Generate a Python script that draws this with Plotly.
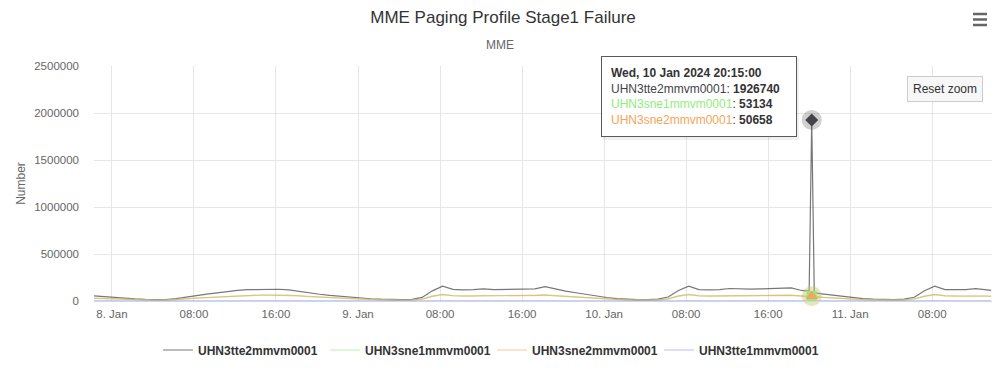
import pandas as pd
import plotly.graph_objects as go

# ---------------- data ----------------
START = "2024-01-07 22:15"
END = "2024-01-11 13:15"
X_RANGE = ["2024-01-07 22:15", "2024-01-11 13:50"]

SERIES_NAMES = ["UHN3tte2mmvm0001", "UHN3sne1mmvm0001", "UHN3sne2mmvm0001", "UHN3tte1mmvm0001"]

# hourly samples (hh:15), Jan 7 22:15 .. Jan 11 13:15
GRAY = [
    55000, 45000,
    36000, 29000, 23000, 18000, 15000, 16000, 26000, 44000, 62000, 73000, 86000, 101000,
    114000, 121000, 124000, 125000, 125000, 118000, 101000, 85000, 72000, 60000, 50000, 40000,
    31000, 24000, 19000, 16000, 15000, 18000, 38000, 108000, 157000, 124000, 118000, 120000,
    129000, 121000, 122000, 131000, 124000, 130000, 152000, 125000, 105000, 88000, 70000, 52000,
    37000, 25000, 18000, 15000, 15000, 19000, 42000, 112000, 157000, 122000, 118000, 121000,
    133000, 127000, 126000, 128000, 130000, 132000, 140000, 112000, 1926740, 75000, 62000, 49000,
    37000, 26000, 19000, 16000, 15000, 19000, 40000, 110000, 157000, 122000, 118000, 121000,
    131000, 116000,
]
GREEN = [
    30000, 26000,
    21000, 17000, 14000, 11000, 10000, 10000, 14000, 23000, 32000, 38000, 45000, 52000,
    58000, 62000, 63000, 64000, 64000, 62000, 56000, 48000, 42000, 35000, 29000, 24000,
    19000, 15000, 12000, 10000, 9000, 11000, 20000, 52000, 70000, 58000, 54000, 55000,
    58000, 55000, 56000, 58000, 56000, 58000, 65000, 57000, 50000, 42000, 33000, 26000,
    20000, 15000, 12000, 10000, 9000, 11000, 23000, 54000, 70000, 57000, 54000, 55000,
    59000, 57000, 56000, 57000, 58000, 59000, 62000, 54000, 53134, 40000, 32000, 26000,
    20000, 15000, 12000, 10000, 9000, 11000, 22000, 52000, 70000, 57000, 54000, 55000,
    59000, 53000,
]
ORANGE = [
    28000, 24000,
    20000, 16000, 13000, 10000, 9000, 9000, 13000, 22000, 30000, 36000, 43000, 50000,
    56000, 60000, 61000, 62000, 62000, 60000, 54000, 46000, 40000, 34000, 28000, 23000,
    18000, 14000, 11000, 9000, 8000, 10000, 19000, 50000, 68000, 56000, 52000, 53000,
    56000, 53000, 54000, 56000, 54000, 56000, 63000, 55000, 48000, 40000, 32000, 25000,
    19000, 14000, 11000, 9000, 8000, 10000, 22000, 52000, 68000, 55000, 52000, 53000,
    57000, 55000, 54000, 55000, 56000, 57000, 60000, 52000, 50658, 38000, 31000, 25000,
    19000, 14000, 11000, 9000, 8000, 10000, 21000, 50000, 68000, 55000, 52000, 53000,
    57000, 51000,
]
PURPLE = [
    1500, 1400,
    1300, 1200, 1100, 1000, 1000, 1000, 1100, 1300, 1500, 1600, 1700, 1800,
    1900, 2000, 2000, 2000, 2000, 1900, 1800, 1700, 1600, 1500, 1400, 1300,
    1200, 1100, 1000, 1000, 1000, 1000, 1200, 1600, 1900, 1800, 1700, 1800,
    1800, 1800, 1800, 1900, 1800, 1900, 2000, 1800, 1700, 1600, 1500, 1400,
    1300, 1200, 1100, 1000, 1000, 1000, 1200, 1600, 1900, 1800, 1700, 1800,
    1900, 1800, 1800, 1800, 1900, 1900, 2000, 1800, 1800, 1600, 1500, 1400,
    1300, 1200, 1100, 1000, 1000, 1000, 1200, 1600, 1900, 1800, 1700, 1800,
    1900, 1700,
]

# extra 15-minute samples around the spike and at the end of the range
EXTRA_TIMES = ["2024-01-10 20:00", "2024-01-10 20:30", "2024-01-11 13:45"]
EXTRA_GRAY = [106000, 86000, 112000]
EXTRA_GREEN = [53500, 46000, 52000]
EXTRA_ORANGE = [51000, 44000, 50000]
EXTRA_PURPLE = [1800, 1700, 1700]

TICK_VALS = ["2024-01-08 00:00", "2024-01-08 08:00", "2024-01-08 16:00",
             "2024-01-09 00:00", "2024-01-09 08:00", "2024-01-09 16:00",
             "2024-01-10 00:00", "2024-01-10 08:00", "2024-01-10 16:00",
             "2024-01-11 00:00", "2024-01-11 08:00"]
TICK_TEXT = ["8. Jan", "08:00", "16:00", "9. Jan", "08:00", "16:00",
             "10. Jan", "08:00", "16:00", "11. Jan", "08:00"]

HOVER_TIME = "2024-01-10 20:15"
HOVER_LABEL = "Wed, 10 Jan 2024 20:15:00"

# ---------------- build frame ----------------
times = pd.date_range(START, END, freq="h")
df = pd.DataFrame({"g": GRAY, "gr": GREEN, "o": ORANGE, "p": PURPLE}, index=times)
ex = pd.DataFrame({"g": EXTRA_GRAY, "gr": EXTRA_GREEN, "o": EXTRA_ORANGE, "p": EXTRA_PURPLE},
                  index=pd.to_datetime(EXTRA_TIMES))
df = pd.concat([df, ex]).sort_index()

FONT = "Liberation Sans, Arial, sans-serif"
LINE_COLORS = ["rgba(67,67,72,0.72)", "rgba(144,237,125,0.65)",
               "rgba(247,163,92,0.62)", "rgba(128,133,233,0.55)"]
BASE_COLORS = ["#434348", "#90ed7d", "#f7a35c", "#8085e9"]
cols = ["g", "gr", "o", "p"]

fig = go.Figure()
for name, c, col in zip(SERIES_NAMES, LINE_COLORS, cols):
    fig.add_trace(go.Scatter(x=df.index, y=df[col], mode="lines", name=name,
                             line=dict(color=c, width=1.2)))

# hover markers at the spike
ht = pd.Timestamp(HOVER_TIME)
hv = df.loc[ht]
symbols = ["diamond", "square", "triangle-up"]
halo = ["rgba(67,67,72,0.25)", "rgba(144,237,125,0.25)", "rgba(247,163,92,0.25)"]
for col, hc in zip(cols[:3], halo):
    fig.add_trace(go.Scatter(x=[ht], y=[hv[col]], mode="markers", showlegend=False,
                             marker=dict(size=20, color=hc, line=dict(width=0)),
                             hoverinfo="skip", cliponaxis=False))
for col, sym, bc in zip(cols[:3], symbols, BASE_COLORS[:3]):
    fig.add_trace(go.Scatter(x=[ht], y=[hv[col]], mode="markers", showlegend=False,
                             marker=dict(size=10 if sym != "triangle-up" else 11, symbol=sym,
                                         color=bc, line=dict(width=0)),
                             hoverinfo="skip", cliponaxis=False))

# ---------------- layout ----------------
L, R, T, B = 94, 7, 66, 75
W, H = 999, 376
PW, PH = W - L - R, H - T - B


def px(x):
    return (x - L) / PW


def py(y):
    return (H - B - y) / PH


tip = (f"<b>{HOVER_LABEL}</b><br>"
       f"<span style='color:{BASE_COLORS[0]}'>{SERIES_NAMES[0]}</span>: <b>{int(hv['g'])}</b><br>"
       f"<span style='color:{BASE_COLORS[1]}'>{SERIES_NAMES[1]}</span>: <b>{int(hv['gr'])}</b><br>"
       f"<span style='color:{BASE_COLORS[2]}'>{SERIES_NAMES[2]}</span>: <b>{int(hv['o'])}</b>")

annotations = [
    dict(text="MME", xref="paper", yref="paper", x=px(500), y=py(45), showarrow=False,
         font=dict(size=12, color="#666666", family=FONT), xanchor="center", yanchor="middle"),
    dict(text=tip, xref="paper", yref="paper", x=px(601), y=py(56), showarrow=False,
         xanchor="left", yanchor="top", align="left", bgcolor="rgba(255,255,255,0.97)",
         bordercolor="#5a5a5e", borderwidth=1, borderpad=9, width=176,
         font=dict(size=12, color="#333333", family=FONT)),
    dict(text="Reset zoom", xref="paper", yref="paper", x=px(944.5), y=py(89), showarrow=False,
         xanchor="center", yanchor="middle", bgcolor="#f7f7f7", bordercolor="#cccccc",
         borderwidth=1, borderpad=5, font=dict(size=12, color="#333333", family=FONT)),
]

shapes = [
    # tooltip shadow
    dict(type="rect", xref="paper", yref="paper", x0=px(603), x1=px(799), y0=py(58), y1=py(140),
         fillcolor="rgba(0,0,0,0.06)", line=dict(width=0), layer="above"),
]
# context-menu (hamburger) icon
for yy in (14, 19.5, 25):
    shapes.append(dict(type="line", xref="paper", yref="paper", x0=px(973), x1=px(987),
                       y0=py(yy), y1=py(yy), line=dict(color="#666666", width=2.5)))

fig.update_layout(
    width=W, height=H,
    margin=dict(l=L, r=R, t=T, b=B),
    paper_bgcolor="white", plot_bgcolor="white",
    font=dict(family=FONT, color="#666666"),
    title=dict(text="MME Paging Profile Stage1 Failure", xref="container", yref="container",
               x=503 / W, y=1 - 17 / H, xanchor="center", yanchor="middle",
               font=dict(size=17, color="#333333", family=FONT)),
    xaxis=dict(type="date", range=X_RANGE, tickvals=TICK_VALS, ticktext=TICK_TEXT,
               showgrid=True, gridcolor="#e6e6e6", gridwidth=1,
               showline=True, linecolor="#ccd6eb", linewidth=1,
               tickfont=dict(size=11.5, color="#666666"), ticks="", zeroline=False,
               ticklabelstandoff=2),
    yaxis=dict(range=[0, 2500000], dtick=500000, tickformat="d",
               showgrid=True, gridcolor="#e6e6e6", gridwidth=1, zeroline=False,
               showline=False, tickfont=dict(size=11.5, color="#666666"),
               ticklabelstandoff=14,
               title=dict(text="Number", font=dict(size=12, color="#666666"), standoff=6)),
    legend=dict(orientation="h", x=px(492), xanchor="center", y=py(350), yanchor="middle",
                font=dict(size=12, color="#333333", weight="bold"),
                entrywidth=122, itemwidth=30, bgcolor="rgba(0,0,0,0)"),
    annotations=annotations,
    shapes=shapes,
    hovermode=False,
    showlegend=True,
)

fig.write_html("out.html", config={"displayModeBar": False},
               post_script="document.body.style.margin='0';document.body.style.overflow='hidden';")
